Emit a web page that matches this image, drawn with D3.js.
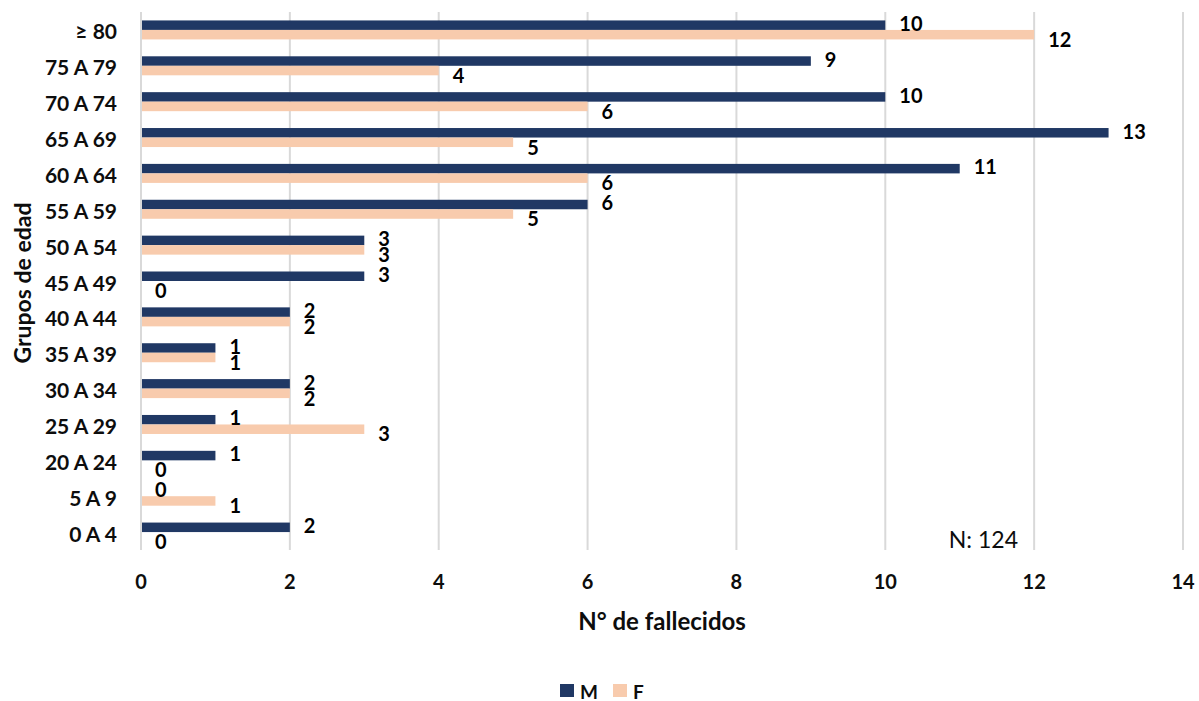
<!DOCTYPE html>
<html>
<head>
<meta charset="utf-8">
<script src="https://cdn.jsdelivr.net/npm/d3@7"></script>
<style>
  html, body { margin: 0; padding: 0; background: #fff; }
  svg { display: block; font-family: Lato, "Open Sans", sans-serif; }
</style>
</head>
<body>
<svg id="chart" width="1199" height="701"></svg>
<script>
const categories = ["≥ 80", "75 A 79", "70 A 74", "65 A 69", "60 A 64", "55 A 59", "50 A 54", "45 A 49", "40 A 44", "35 A 39", "30 A 34", "25 A 29", "20 A 24", "5 A 9", "0 A 4"];
const seriesNames = ["M", "F"];
const valuesM = [10, 9, 10, 13, 11, 6, 3, 3, 2, 1, 2, 1, 1, 0, 2];
const valuesF = [12, 4, 6, 5, 6, 5, 3, 0, 2, 1, 2, 3, 0, 1, 0];
const xTicks = [0, 2, 4, 6, 8, 10, 12, 14];
const colors = ["#203864", "#F8CBAD"];
const xTitle = "N° de fallecidos";
const yTitle = "Grupos de edad";
const note = "N: 124";

(function () {
const svg = d3.select("#chart");
const mLeft = 141, mRight = 1183, mTop = 12, mBottom = 550;

const x = d3.scaleLinear().domain([0, 14]).range([mLeft, mRight]);
const y0 = d3.scaleBand().domain(categories).range([mTop, mBottom]).paddingInner(0.47).paddingOuter(0.235);
const y1 = d3.scaleBand().domain(seriesNames).range([0, y0.bandwidth()]);
const color = d3.scaleOrdinal().domain(seriesNames).range(colors);

// gridlines
svg.append("g").selectAll("line").data(xTicks).join("line")
  .attr("x1", d => x(d)).attr("x2", d => x(d))
  .attr("y1", mTop).attr("y2", mBottom)
  .attr("stroke", "#d9d9d9").attr("stroke-width", 2);

const rows = categories.map((c, i) => ({ cat: c, vals: [
  { s: "M", v: valuesM[i] }, { s: "F", v: valuesF[i] }
]}));

const groups = svg.append("g").selectAll("g").data(rows).join("g")
  .attr("transform", d => `translate(0,${y0(d.cat)})`);

groups.selectAll("rect").data(d => d.vals).join("rect")
  .attr("x", x(0) + 1)
  .attr("y", d => y1(d.s))
  .attr("width", d => Math.max(0, x(d.v) - x(0) - 1))
  .attr("height", y1.bandwidth())
  .attr("fill", d => color(d.s));

// value labels
groups.selectAll("text").data(d => d.vals).join("text")
  .attr("x", d => x(d.v) + 14)
  .attr("y", d => y0.bandwidth() / 2 + (d.s === "M" ? -7 : 9))
  .attr("dominant-baseline", "central")
  .attr("font-size", 20).attr("font-weight", 700).attr("fill", "#000")
  .text(d => d.v);

// category labels
svg.append("g").selectAll("text").data(categories).join("text")
  .attr("x", 117)
  .attr("y", d => y0(d) + y0.bandwidth() / 2 + 1)
  .attr("text-anchor", "end").attr("dominant-baseline", "central")
  .attr("font-size", 21).attr("font-weight", 700).attr("fill", "#0d0d0d")
  .text(d => d);

// x tick labels
svg.append("g").selectAll("text").data(xTicks).join("text")
  .attr("x", d => x(d)).attr("y", 581)
  .attr("text-anchor", "middle").attr("dominant-baseline", "central")
  .attr("font-size", 20).attr("font-weight", 700).attr("fill", "#0d0d0d")
  .text(d => d);

// axis titles
svg.append("text").attr("x", 662).attr("y", 620)
  .attr("text-anchor", "middle").attr("dominant-baseline", "central")
  .attr("font-size", 24).attr("font-weight", 700).attr("fill", "#0d0d0d")
  .text(xTitle);

svg.append("text").attr("transform", `translate(22,${(mTop + mBottom) / 2 + 2}) rotate(-90)`)
  .attr("text-anchor", "middle").attr("dominant-baseline", "central")
  .attr("font-size", 23).attr("font-weight", 700).attr("fill", "#0d0d0d")
  .text(yTitle);

// note
svg.append("text").attr("x", 1018).attr("y", 539)
  .attr("text-anchor", "end").attr("dominant-baseline", "central")
  .attr("font-size", 23).attr("fill", "#0d0d0d")
  .text(note);

// legend
const legend = svg.append("g").selectAll("g").data(seriesNames).join("g")
  .attr("transform", (d, i) => `translate(${560 + i * 53},684)`);
legend.append("rect").attr("width", 14).attr("height", 13).attr("fill", d => color(d));
legend.append("text").attr("x", 20).attr("y", 7)
  .attr("dominant-baseline", "central")
  .attr("font-size", 19).attr("font-weight", 700).attr("fill", "#0d0d0d")
  .text(d => d);
})();
</script>
</body>
</html>
